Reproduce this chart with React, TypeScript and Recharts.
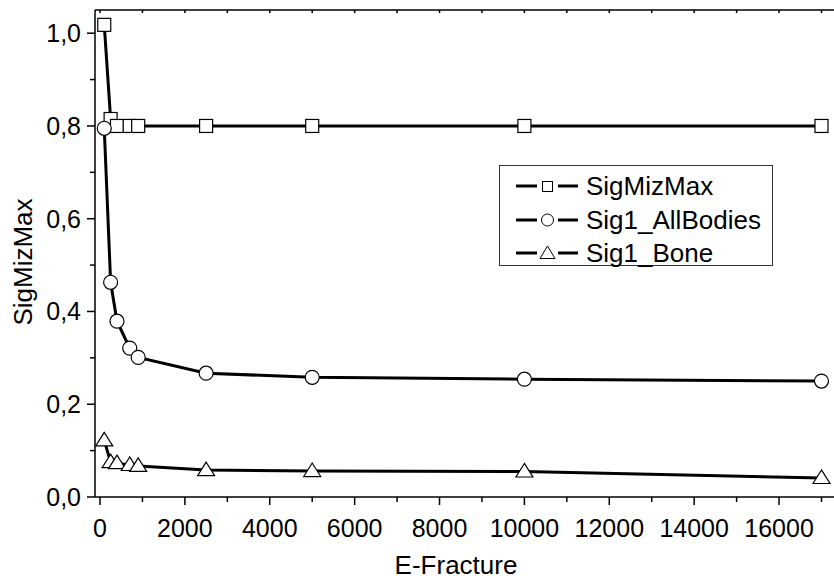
import { LineChart, Line, XAxis, YAxis } from "recharts";

const eFracture = [100, 250, 400, 700, 900, 2500, 5000, 10000, 17000];
const sigMizMax = [1.018, 0.815, 0.8, 0.8, 0.8, 0.8, 0.8, 0.8, 0.8];
const sig1AllBodies = [0.795, 0.463, 0.379, 0.321, 0.301, 0.267, 0.258, 0.254, 0.25];
const sig1Bone = [0.122, 0.075, 0.073, 0.069, 0.067, 0.058, 0.056, 0.055, 0.041];

const xTicks = [0, 1000, 2000, 3000, 4000, 5000, 6000, 7000, 8000, 9000, 10000, 11000, 12000, 13000, 14000, 15000, 16000, 17000];
const yTicks = [0, 0.1, 0.2, 0.3, 0.4, 0.5, 0.6, 0.7, 0.8, 0.9, 1.0];
const legendNames = ["SigMizMax", "Sig1_AllBodies", "Sig1_Bone"];

const FONT = "'Liberation Sans', Arial, sans-serif";

const data = eFracture.map((x, i) => ({
  x,
  miz: sigMizMax[i],
  all: sig1AllBodies[i],
  bone: sig1Bone[i],
}));

const square = (p: any) => (
  <rect key={"s" + p.index} x={p.cx - 6.5} y={p.cy - 6.5} width={13} height={13}
    fill="#fff" stroke="#000" strokeWidth={1.2} />
);
const circle = (p: any) => (
  <circle key={"c" + p.index} cx={p.cx} cy={p.cy} r={7} fill="#fff" stroke="#000" strokeWidth={1.2} />
);
const triangle = (p: any) => (
  <polygon key={"t" + p.index}
    points={`${p.cx},${p.cy - 8} ${p.cx - 8.5},${p.cy + 5.5} ${p.cx + 8.5},${p.cy + 5.5}`}
    fill="#fff" stroke="#000" strokeWidth={1.2} />
);

const BottomTick = (p: any) => {
  const v = p.payload.value;
  const major = v % 2000 === 0;
  return (
    <g>
      <line x1={p.x} x2={p.x} y1={p.y} y2={p.y + (major ? 8 : 5)} stroke="#000" strokeWidth={1.5} />
      {major && v <= 16000 && (
        <text x={p.x} y={p.y + 40} textAnchor="middle" fontSize={25} fontFamily={FONT} fill="#000">{v}</text>
      )}
    </g>
  );
};

const TopTick = (p: any) => (
  <line x1={p.x} x2={p.x} y1={p.y} y2={p.y + 3} stroke="#000" strokeWidth={1.5} />
);

const LeftTick = (p: any) => {
  const v = p.payload.value;
  const major = Math.round(v * 10) % 2 === 0;
  return (
    <g>
      <line x1={p.x} x2={p.x - (major ? 8 : 5)} y1={p.y} y2={p.y} stroke="#000" strokeWidth={1.5} />
      {major && (
        <text x={p.x - 14} y={p.y} dy="0.36em" textAnchor="end" fontSize={25} fontFamily={FONT} fill="#000">
          {v.toFixed(1).replace(".", ",")}
        </text>
      )}
    </g>
  );
};

function LegendMark({ kind }: { kind: number }) {
  return (
    <svg width={80} height={24} style={{ display: "block" }}>
      <line x1={16} x2={37} y1={12} y2={12} stroke="#000" strokeWidth={3} />
      <line x1={58} x2={78} y1={12} y2={12} stroke="#000" strokeWidth={3} />
      {kind === 0 && <rect x={42.5} y={7.5} width={10} height={10} fill="#fff" stroke="#000" strokeWidth={1} />}
      {kind === 1 && <circle cx={47.5} cy={12} r={6} fill="#fff" stroke="#000" strokeWidth={1} />}
      {kind === 2 && <polygon points="47.5,5 40,17.5 55,17.5" fill="#fff" stroke="#000" strokeWidth={1} />}
    </svg>
  );
}

export default function App() {
  return (
    <div style={{ position: "absolute", left: 0, top: 0, width: 834, height: 580, background: "#fff" }}>
      <LineChart width={834} height={580} data={data} margin={{ top: 9, right: 0, bottom: 23, left: 0 }}>
        <XAxis dataKey="x" type="number" domain={[-118, 17295]} allowDataOverflow ticks={xTicks} interval={0}
          height={60} tickSize={0} tickMargin={0} tickLine={false} tick={BottomTick}
          axisLine={{ stroke: "#000", strokeWidth: 1.5 }} />
        <XAxis xAxisId="top" orientation="top" dataKey="x" type="number" domain={[-118, 17295]} allowDataOverflow
          ticks={xTicks} interval={0} height={1} tickSize={0} tickMargin={0} tickLine={false} tick={TopTick}
          axisLine={{ stroke: "#000", strokeWidth: 1.5 }} />
        <YAxis type="number" domain={[0, 1.05]} allowDataOverflow ticks={yTicks} interval={0} width={95}
          tickSize={0} tickMargin={0} tickLine={false} tick={LeftTick}
          axisLine={{ stroke: "#000", strokeWidth: 1.5 }} />
        <Line dataKey="miz" stroke="#000" strokeWidth={3} dot={square} activeDot={false} isAnimationActive={false} />
        <Line dataKey="all" stroke="#000" strokeWidth={3} dot={circle} activeDot={false} isAnimationActive={false} />
        <Line dataKey="bone" stroke="#000" strokeWidth={3} dot={triangle} activeDot={false} isAnimationActive={false} />
        <text x={23} y={262} transform="rotate(-90 23 262)" textAnchor="middle" dominantBaseline="central"
          fontSize={26} fontFamily={FONT} fill="#000">SigMizMax</text>
        <text x={456} y={574} textAnchor="middle" fontSize={26} fontFamily={FONT} fill="#000">E-Fracture</text>
      </LineChart>
      <div style={{
        position: "absolute", left: 499, top: 165, width: 272, height: 99,
        border: "1px solid #333", background: "#fff", fontFamily: FONT, fontSize: 26, color: "#000",
      }}>
        {legendNames.map((n, i) => (
          <div key={n} style={{ position: "absolute", left: 0, top: 8 + i * 33.5, height: 24, display: "flex", alignItems: "center" }}>
            <LegendMark kind={i} />
            <span style={{ marginLeft: 6, lineHeight: "24px" }}>{n}</span>
          </div>
        ))}
      </div>
    </div>
  );
}
